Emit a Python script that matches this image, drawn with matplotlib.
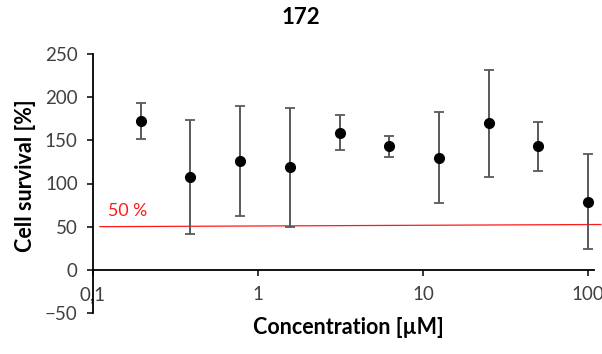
import matplotlib
matplotlib.use("Agg")
import matplotlib.pyplot as plt
from matplotlib.ticker import FixedLocator, FixedFormatter, NullLocator

plt.rcParams['font.family'] = ['Lato', 'DejaVu Sans']

# Dose-response data
concentration = [0.195, 0.39, 0.78, 1.56, 3.125, 6.25, 12.5, 25, 50, 100]
survival = [172, 108, 126, 119, 159, 143, 130, 170, 143, 79]
survival_err = [21, 66, 64, 69, 20, 12, 53, 62, 28, 55]

x_ticks = [0.1, 1, 10, 100]
x_tick_labels = ["0,1", "1", "10", "100"]
y_ticks = [-50, 0, 50, 100, 150, 200, 250]

threshold_x = [0.11, 120]
threshold_y = [50, 52.5]

fig = plt.figure(figsize=(6.02, 3.54), dpi=100)
ax = fig.add_axes([93 / 602, 1 - 313 / 354, (594 - 93) / 602, (313 - 54) / 354])

ax.set_xscale('log')
ax.set_xlim(0.1, 109)
ax.set_ylim(-50, 250)

# 50 % reference line
ax.plot(threshold_x, threshold_y, color='#ff1a1a', lw=0.9, clip_on=False, zorder=2)
ax.text(0.123, 68, "50 %", color='#ff1a1a', fontsize=12.8, ha='left', va='center')

ax.errorbar(concentration, survival, yerr=survival_err, fmt='o', color='black',
            markersize=7, ecolor='#595959', elinewidth=1.4, capsize=3.5,
            capthick=1.3, zorder=3)

for side in ('top', 'right'):
    ax.spines[side].set_visible(False)
ax.spines['bottom'].set_position(('data', 0))
ax.spines['left'].set_position(('data', 0.1))
ax.spines['bottom'].set_linewidth(1.3)
ax.spines['left'].set_linewidth(1.3)

ax.xaxis.set_major_locator(FixedLocator(x_ticks))
ax.xaxis.set_major_formatter(FixedFormatter(x_tick_labels))
ax.xaxis.set_minor_locator(NullLocator())
ax.yaxis.set_major_locator(FixedLocator(y_ticks))

ax.tick_params(axis='x', direction='out', length=4, width=1.1, pad=8,
               labelsize=13.5, labelcolor='#404040')
ax.tick_params(axis='y', direction='out', length=4, width=1.1, pad=7,
               labelsize=13.5, labelcolor='#404040')

fig.text(0.5, 1 - 18 / 354, "172", ha='center', va='center', fontsize=16,
         fontweight='bold')
fig.text(348 / 602, 1 - 328 / 354, "Concentration [µM]", ha='center', va='center',
         fontsize=15.5, fontweight='bold')
fig.text(26 / 602, 1 - 176 / 354, "Cell survival [%]", ha='center', va='center',
         rotation=90, fontsize=15.5, fontweight='bold')

fig.savefig("out.png", dpi=100)
